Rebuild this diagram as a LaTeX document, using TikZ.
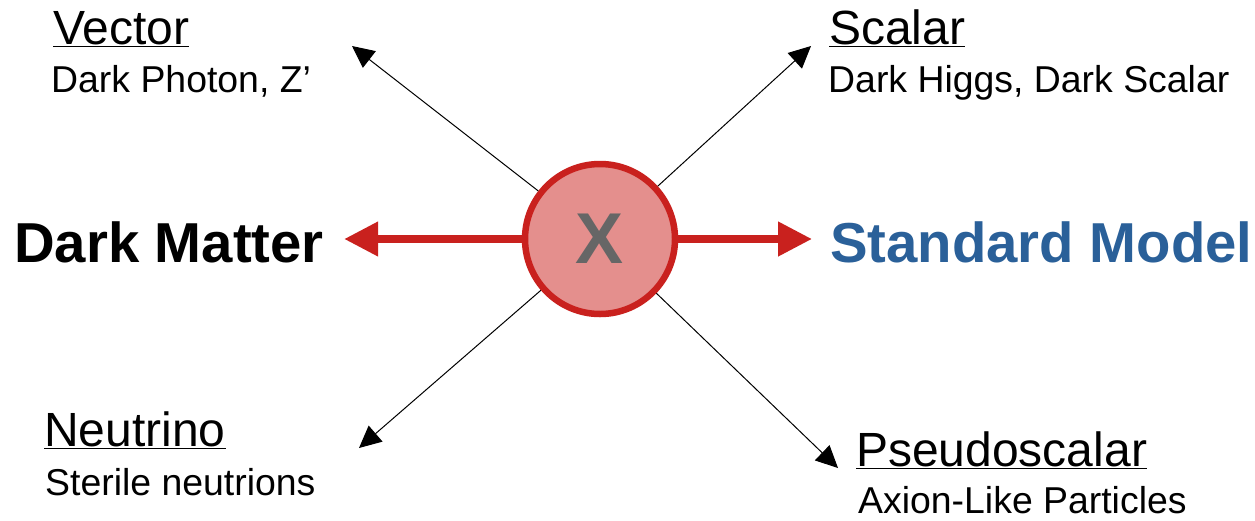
\documentclass[tikz,border=0pt]{standalone}
\usepackage{fontspec}
\setmainfont{Liberation Sans}
\usetikzlibrary{arrows.meta}
\definecolor{PortalRed}{HTML}{C9211E}
\definecolor{SoftRed}{HTML}{E48F8D}
\definecolor{SmBlue}{HTML}{2A6099}
\definecolor{XGrey}{HTML}{666666}

\begin{document}
\begin{tikzpicture}[x=1pt, y=-1pt,
  med/.style={circle, draw=PortalRed, line width=6.5pt, fill=SoftRed,
     minimum size=150pt, inner sep=0pt, text=XGrey,
     font=\fontsize{72}{72}\selectfont\bfseries},
  side/.style={anchor=base west, inner sep=0pt,
     font=\fontsize{56.3}{60}\selectfont\bfseries},
  head/.style={anchor=base west, inner sep=0pt,
     font=\fontsize{48}{50}\selectfont},
  sub/.style={anchor=base west, inner sep=0pt,
     font=\fontsize{37.4}{40}\selectfont},
  portal/.style={draw=PortalRed, line width=7.5pt,
     -{Triangle[length=34pt, width=33pt]}},
  link/.style={draw=black, line width=1pt,
     -{Triangle[length=22pt, width=21pt]}}]
  \useasboundingbox (0,0) rectangle (1255,520);
  % mediator in the middle
  \node[med] (x) at (600,239) {X};
  % the two sectors it connects
  \node[side] (dm) at (14,262) {Dark Matter};
  \node[side, text=SmBlue] (sm) at (830,262) {Standard Model};
  \draw[portal, shorten >=20pt] (x) -- (x -| dm.east);
  \draw[portal, shorten >=18pt] (x) -- (x -| sm.west);
  % portal types
  \node[head] (vec) at (53,44) {\underline{Vector}};
  \node[sub] (vecs) at (51,92) {Dark Photon, Z’};
  \node[head] (sca) at (829,44) {\underline{Scalar}};
  \node[sub] (scas) at (828,92) {Dark Higgs, Dark Scalar};
  \node[head] (neu) at (44,446) {\underline{Neutrino}};
  \node[sub] (neus) at (45,495) {Sterile neutrions};
  \node[head] (pse) at (856,466) {\underline{Pseudoscalar}};
  \node[sub] (pses) at (858,513) {Axion-Like Particles};
  % arrow ends next to the labels
  \coordinate (tvec) at (352,46);
  \coordinate (tsca) at (811,46);
  \coordinate (tneu) at (359,448);
  \coordinate (tpse) at (838,468);
  \foreach \t in {tvec,tsca,tneu,tpse}
    \draw[link] (x) -- (\t);
\end{tikzpicture}
\end{document}
